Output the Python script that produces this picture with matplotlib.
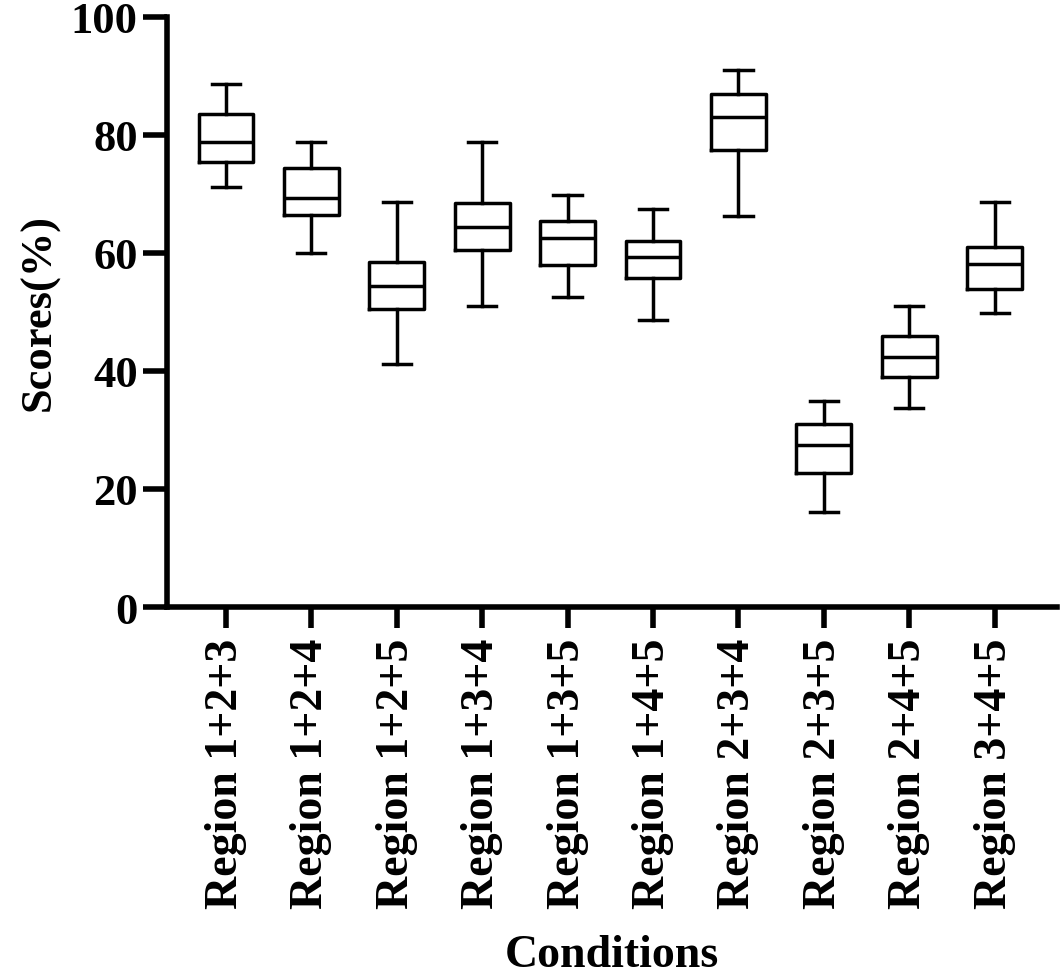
import matplotlib
matplotlib.use("Agg")
import matplotlib.pyplot as plt

categories = ["Region 1+2+3", "Region 1+2+4", "Region 1+2+5", "Region 1+3+4",
              "Region 1+3+5", "Region 1+4+5", "Region 2+3+4", "Region 2+3+5",
              "Region 2+4+5", "Region 3+4+5"]
whisker_low = [71.2, 60.0, 41.2, 51.1, 52.5, 48.6, 66.2, 16.1, 33.7, 49.9]
q1 = [75.5, 66.4, 50.5, 60.5, 57.9, 55.7, 77.5, 22.7, 38.9, 53.9]
median = [78.8, 69.3, 54.4, 64.4, 62.5, 59.3, 83.0, 27.5, 42.3, 58.1]
q3 = [83.5, 74.4, 58.4, 68.4, 65.5, 62.1, 86.9, 31.0, 45.9, 61.0]
whisker_high = [88.7, 78.8, 68.6, 78.8, 69.9, 67.4, 91.1, 34.9, 51.1, 68.6]

plt.rcParams['font.family'] = ['Liberation Serif', 'DejaVu Serif']
plt.rcParams['font.weight'] = 'bold'

fig = plt.figure(figsize=(10.6, 9.79), dpi=100)
ax = fig.add_axes([167/1060, (979-608)/979, (1057-167)/1060, (608-18)/979])

stats = []
for i, c in enumerate(categories):
    stats.append(dict(label=c, whislo=whisker_low[i], q1=q1[i], med=median[i],
                      q3=q3[i], whishi=whisker_high[i], fliers=[]))

lw = 2.5
ax.bxp(stats, positions=list(range(len(categories))), widths=0.64, capwidths=0.33,
       showfliers=False, patch_artist=False,
       boxprops=dict(color='black', linewidth=lw),
       medianprops=dict(color='black', linewidth=lw),
       whiskerprops=dict(color='black', linewidth=lw),
       capprops=dict(color='black', linewidth=lw))

ax.set_xlim(-0.69, 9.73)
ax.set_ylim(0, 100)
ax.set_yticks([0, 20, 40, 60, 80, 100])
ax.set_xticks(range(len(categories)))
ax.set_xticklabels(categories, rotation=90, fontsize=33, fontweight='bold')
for t in ax.get_yticklabels():
    t.set_fontsize(32)
    t.set_fontweight('bold')

for s in ['top', 'right']:
    ax.spines[s].set_visible(False)
for s in ['left', 'bottom']:
    ax.spines[s].set_linewidth(4)
    ax.spines[s].set_color('black')

ax.tick_params(axis='y', length=17, width=4, pad=4, colors='black')
ax.tick_params(axis='x', length=15, width=4, pad=7, colors='black')

ax.set_ylabel("Scores(%)", fontsize=32, fontweight='bold', labelpad=8)
ax.set_xlabel("Conditions", fontsize=33, fontweight='bold', labelpad=19)

fig.savefig("out.png", dpi=100)
